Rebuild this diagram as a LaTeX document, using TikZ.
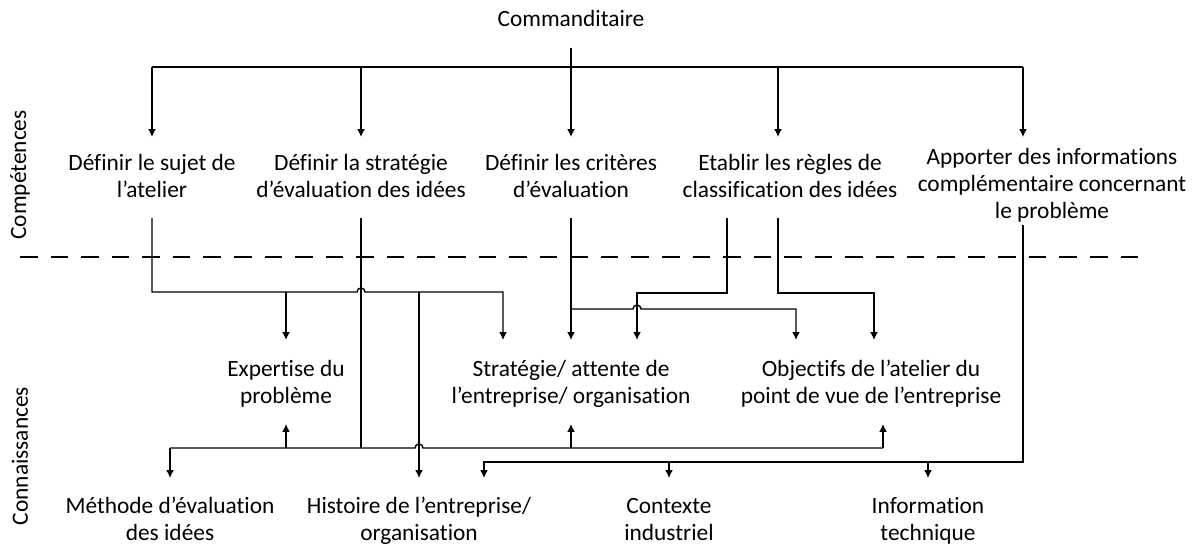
\documentclass[tikz,border=0pt]{standalone}
\usepackage{fontspec}
\setmainfont{Carlito}[Ligatures=CommonOff]
\usetikzlibrary{arrows.meta}
\begin{document}
\begin{tikzpicture}[x=0.02cm, y=-0.02cm, >={Latex[length=4.5pt,width=4.5pt]}]
    \useasboundingbox (0,0) rectangle (1197,546);

    \tikzstyle{txt} = [align=center, inner sep=0pt, anchor=base, font=\fontsize{13.3}{15.6}\selectfont]
    \tikzstyle{side} = [txt, anchor=center, rotate=90]
    \tikzstyle{link} = [line width=0.8pt]

    % niveaux
    \node[side] (comp) at (20,175) {Compétences};
    \node[side] (conn) at (20,456) {Connaissances};
    \draw[line width=0.6pt, dash pattern=on 10pt off 7.4pt] (20,257) -- (1140,257);

    \node[txt] (cmd) at (571,27) {Commanditaire};

    \node[txt] (sujet) at (152,198) {Définir le sujet de\\l’atelier};
    \node[txt] (strat) at (361,198) {Définir la stratégie\\d’évaluation des idées};
    \node[txt] (crit) at (571,198) {Définir les critères\\d’évaluation};
    \node[txt] (regles) at (790,198) {Etablir les règles de\\classification des idées};
    \node[txt] (apport) at (1052,219) {Apporter des informations\\complémentaire concernant\\le problème};

    \node[txt] (expert) at (286,404) {Expertise du\\problème};
    \node[txt] (strent) at (571,404) {Stratégie/ attente de\\l’entreprise/ organisation};
    \node[txt] (object) at (871,404) {Objectifs de l’atelier du\\point de vue de l’entreprise};

    \node[txt] (methode) at (170,541) {Méthode d’évaluation\\des idées};
    \node[txt] (histoire) at (419,541) {Histoire de l’entreprise/\\organisation};
    \node[txt] (contexte) at (669,541) {Contexte\\industriel};
    \node[txt] (info) at (928,541) {Information\\technique};

    % commanditaire -> competences
    \draw[link] (cmd |- 0,48) -- (cmd |- 0,67);
    \draw[link] (sujet |- 0,67) -- (1023,67);
    \foreach \n in {sujet,strat,crit}
        \draw[link,->] (\n |- 0,67) -- (\n |- 0,137);
    \draw[link,->] (778,67) -- (778,137);
    \draw[link,->] (1023,67) -- (1023,137);

    % definir le sujet
    \draw[link,->] (sujet |- 0,218) |- (357,292) arc[start angle=180, end angle=360, radius=4] -- (503,292) -- (503,340);
    \draw[link,->] (expert |- 0,292) -- (expert |- 0,340);
    \draw[link,->] (histoire |- 0,292) -- (histoire |- 0,478);

    % definir la strategie
    \draw[link] (strat |- 0,218) -- (strat |- 0,448);
    \draw[link] (methode |- 0,448) -- (415,448) arc[start angle=180, end angle=360, radius=4] -- (883,448);
    \draw[link,->] (methode |- 0,448) -- (methode |- 0,478);
    \draw[link,->] (expert |- 0,448) -- (expert |- 0,424);
    \draw[link,->] (strent |- 0,448) -- (strent |- 0,424);
    \draw[link,->] (883,448) -- (883,424);

    % definir les criteres
    \draw[link,->] (crit |- 0,218) -- (crit |- 0,340);
    \draw[link,->] (crit |- 0,309) -- (633,309) arc[start angle=180, end angle=360, radius=4] -- (796,309) -- (796,340);

    % etablir les regles
    \draw[link,->] (727,218) |- (637,293) -- (637,340);
    \draw[link,->] (778,218) |- (874,293) -- (874,340);

    % apporter des informations
    \draw[link,->] (1023,225) |- (484,462) -- (484,478);
    \draw[link,->] (contexte |- 0,462) -- (contexte |- 0,478);
    \draw[link,->] (info |- 0,462) -- (info |- 0,478);
\end{tikzpicture}
\end{document}
